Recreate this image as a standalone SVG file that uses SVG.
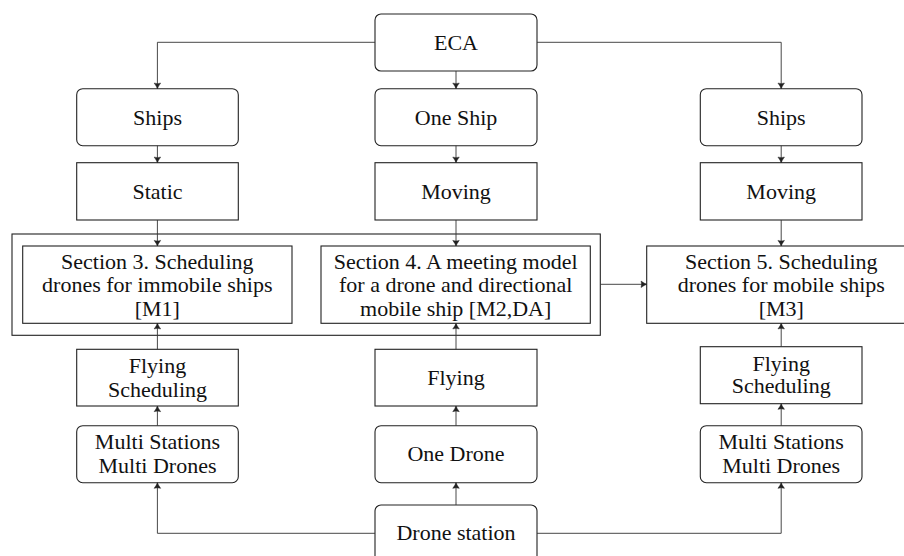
<svg xmlns="http://www.w3.org/2000/svg" width="904" height="556" viewBox="0 0 904 556">
<style>
.b{fill:#fff;stroke:#222;stroke-width:1.1}
.t{font-family:'Liberation Serif','DejaVu Serif','Times New Roman',Times,serif;font-size:22px;fill:#111;text-anchor:middle}
.c{fill:none;stroke:#333;stroke-width:0.9}
</style>
<defs>
<marker id="ar" markerUnits="userSpaceOnUse" markerWidth="10" markerHeight="10" viewBox="-6 -4 8 8" refX="0" refY="0" orient="auto">
<path d="M-4.5,-2.6 Q-1.8,-0.6 0,0 Q-1.8,0.6 -4.5,2.6 Q-3.6,0 -4.5,-2.6 Z" fill="#222" stroke="#222" stroke-width="0.4"/>
</marker>
</defs>
<rect width="904" height="556" fill="#fff"/>
<g id="outer"><rect class="b" x="12" y="234" width="588.3" height="101.3"/></g>
<g id="eca"><rect class="b" x="375" y="14" width="162" height="57" rx="6"/><text class="t" x="456" y="49.5" font-family="Liberation Serif, serif">ECA</text></g>
<g id="ships1"><rect class="b" x="76.7" y="88.7" width="161.6" height="57" rx="6"/><text class="t" x="157.5" y="124.5">Ships</text></g>
<g id="oneship"><rect class="b" x="375" y="88.7" width="162" height="57" rx="6"/><text class="t" x="456" y="124.5">One Ship</text></g>
<g id="ships3"><rect class="b" x="700.3" y="88.7" width="161.7" height="57" rx="6"/><text class="t" x="781.2" y="124.5">Ships</text></g>
<g id="static"><rect class="b" x="76.7" y="162.7" width="161.6" height="57.3"/><text class="t" x="157.5" y="198.5">Static</text></g>
<g id="moving2"><rect class="b" x="375" y="162.7" width="162" height="57.3"/><text class="t" x="456" y="198.5">Moving</text></g>
<g id="moving3"><rect class="b" x="700.3" y="162.7" width="161.7" height="57.3"/><text class="t" x="781.2" y="198.5">Moving</text></g>
<g id="sec3"><rect class="b" x="22.7" y="246" width="269.3" height="77.3"/>
<text class="t" x="157.3" y="268.5">Section 3. Scheduling</text>
<text class="t" x="157.3" y="291.8">drones for immobile ships</text>
<text class="t" x="157.3" y="315.5">[M1]</text></g>
<g id="sec4"><rect class="b" x="321" y="246" width="269.3" height="77.3"/>
<text class="t" x="455.7" y="268.5">Section 4. A meeting model</text>
<text class="t" x="455.7" y="291.8">for a drone and directional</text>
<text class="t" x="455.7" y="315.5">mobile ship [M2,DA]</text></g>
<g id="sec5"><rect class="b" x="646.7" y="246" width="269.3" height="77.3"/>
<text class="t" x="781.3" y="268.5">Section 5. Scheduling</text>
<text class="t" x="781.3" y="291.8">drones for mobile ships</text>
<text class="t" x="781.3" y="315.5">[M3]</text></g>
<g id="fly1"><rect class="b" x="76.7" y="349.3" width="161.6" height="56.7"/>
<text class="t" x="157.5" y="373.3">Flying</text><text class="t" x="157.5" y="396.7">Scheduling</text></g>
<g id="fly2"><rect class="b" x="375" y="349.3" width="162" height="56.7"/><text class="t" x="456" y="385">Flying</text></g>
<g id="fly3"><rect class="b" x="700.3" y="346.7" width="161.7" height="57"/>
<text class="t" x="781.2" y="370.7">Flying</text><text class="t" x="781.2" y="393.3">Scheduling</text></g>
<g id="multi1"><rect class="b" x="76.7" y="425.7" width="161.6" height="57" rx="6"/>
<text class="t" x="157.5" y="449">Multi Stations</text><text class="t" x="157.5" y="473">Multi Drones</text></g>
<g id="onedrone"><rect class="b" x="375" y="425.7" width="162" height="57" rx="6"/><text class="t" x="456" y="460.7">One Drone</text></g>
<g id="multi3"><rect class="b" x="700.3" y="425.7" width="161.7" height="57" rx="6"/>
<text class="t" x="781.2" y="449">Multi Stations</text><text class="t" x="781.2" y="473">Multi Drones</text></g>
<g id="station"><rect class="b" x="375" y="505" width="162" height="60" rx="6"/><text class="t" x="456" y="540">Drone station</text></g>
<g id="connectors">
<path class="c" marker-end="url(#ar)" d="M375,42.3H157.4V88.7"/>
<path class="c" marker-end="url(#ar)" d="M456,71V88.7"/>
<path class="c" marker-end="url(#ar)" d="M537,42.3H781.2V88.7"/>
<path class="c" marker-end="url(#ar)" d="M157.4,145.7V162.7"/>
<path class="c" marker-end="url(#ar)" d="M456,145.7V162.7"/>
<path class="c" marker-end="url(#ar)" d="M781.2,145.7V162.7"/>
<path class="c" marker-end="url(#ar)" d="M157.4,220V246"/>
<path class="c" marker-end="url(#ar)" d="M456,220V246"/>
<path class="c" marker-end="url(#ar)" d="M781.2,220V246"/>
<path class="c" marker-end="url(#ar)" d="M600.3,284.3H646.7"/>
<path class="c" marker-end="url(#ar)" d="M157.4,349.3V323.3"/>
<path class="c" marker-end="url(#ar)" d="M456,349.3V323.3"/>
<path class="c" marker-end="url(#ar)" d="M781.2,346.7V323.3"/>
<path class="c" marker-end="url(#ar)" d="M157.4,425.7V406"/>
<path class="c" marker-end="url(#ar)" d="M456,425.7V406"/>
<path class="c" marker-end="url(#ar)" d="M781.2,425.7V403.7"/>
<path class="c" marker-end="url(#ar)" d="M375,533.3H157.4V482.7"/>
<path class="c" marker-end="url(#ar)" d="M456,505V482.7"/>
<path class="c" marker-end="url(#ar)" d="M537,533.3H781.2V482.7"/>
</g>
</svg>
